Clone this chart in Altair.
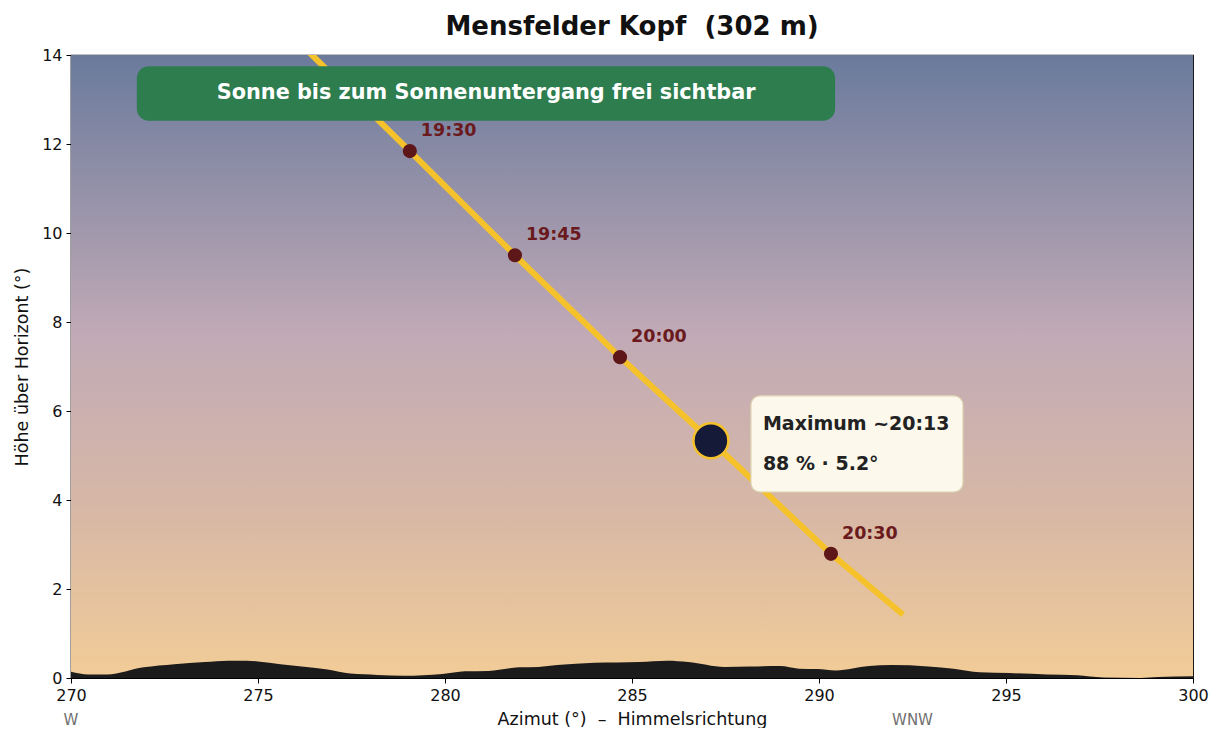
import altair as alt
import pandas as pd

# --- data ---
horizon_az = [270.0, 270.46, 270.97, 271.94, 272.76, 273.58, 274.2, 274.7, 275.0, 275.6,
              276.86, 277.47, 278.19, 278.9, 279.93, 280.54, 281.16, 281.98, 282.5, 283.0,
              284.0, 285.2, 285.94, 286.5, 287.48, 288.17, 288.96, 289.46, 289.95, 290.45,
              291.34, 291.93, 292.92, 293.6, 294.3, 295.1, 296.1, 296.9, 297.6, 298.6,
              299.06, 300.0]
horizon_alt = [0.14, 0.08, 0.08, 0.24, 0.31, 0.36, 0.39, 0.39, 0.37, 0.31,
               0.19, 0.10, 0.07, 0.05, 0.09, 0.15, 0.16, 0.24, 0.25, 0.29,
               0.34, 0.36, 0.39, 0.36, 0.25, 0.26, 0.27, 0.21, 0.20, 0.17,
               0.27, 0.29, 0.26, 0.21, 0.13, 0.11, 0.08, 0.06, 0.01, 0.0,
               0.02, 0.04]

path_az = [276.2, 279.06, 281.87, 284.68, 287.11, 290.32, 292.25]
path_alt = [14.2, 11.84, 9.5, 7.21, 5.33, 2.79, 1.42]

mark_times = ["19:30", "19:45", "20:00", "20:30"]
mark_az = [279.06, 281.87, 284.68, 290.32]
mark_alt = [11.84, 9.5, 7.21, 2.79]

max_az = [287.11]
max_alt = [5.33]
max_line1 = "Maximum ~20:13"
max_line2 = "88 % · 5.2°"

banner_text = "Sonne bis zum Sonnenuntergang frei sichtbar"
title_text = "Mensfelder Kopf \u00a0(302 m)"
x_title = "Azimut (°) \u00a0–\u00a0 Himmelsrichtung"
y_title = "Höhe über Horizont (°)"
compass_labels = ["W", "WNW"]
compass_az = [270.0, 292.5]
x_ticks = [270, 275, 280, 285, 290, 295, 300]
y_ticks = [0, 2, 4, 6, 8, 10, 12, 14]

FONT = "DejaVu Sans"

xs = alt.Scale(domain=[270, 300], nice=False)
ys = alt.Scale(domain=[0, 14], nice=False)

X = lambda f: alt.X(f, type="quantitative", scale=xs,
                    axis=alt.Axis(title=x_title, values=x_ticks, labelFlush=False))
Y = lambda f: alt.Y(f, type="quantitative", scale=ys,
                    axis=alt.Axis(title=y_title, values=y_ticks, labelFlush=False))

sky_df = pd.DataFrame({"x0": [270], "x1": [300], "y0": [0], "y1": [14]})
sky = alt.Chart(sky_df).mark_rect(
    color=alt.Gradient(
        gradient="linear", x1=0, x2=0, y1=0, y2=1,
        stops=[alt.GradientStop(offset=0, color="#6a7a9c"),
               alt.GradientStop(offset=0.45, color="#c1aab6"),
               alt.GradientStop(offset=0.75, color="#d9b9a5"),
               alt.GradientStop(offset=1, color="#f2cc97")]
    )
).encode(x=X("x0"), x2="x1", y=Y("y0"), y2="y1")

hz_df = pd.DataFrame({"az": horizon_az, "alt": horizon_alt})
horizon = alt.Chart(hz_df).mark_area(color="#1b1b1b", interpolate="monotone", opacity=1).encode(
    x=X("az"), y=Y("alt"), y2=alt.datum(0))

path_df = pd.DataFrame({"az": path_az, "alt": path_alt})
path = alt.Chart(path_df).mark_line(color="#f5c22c", strokeWidth=6, clip=True).encode(
    x=X("az"), y=Y("alt"))

mk_df = pd.DataFrame({"t": mark_times, "az": mark_az, "alt": mark_alt})
markers = alt.Chart(mk_df).mark_circle(color="#5e1719", size=200, opacity=1).encode(
    x=X("az"), y=Y("alt"))
mk_labels = alt.Chart(mk_df).mark_text(color="#6a1a1c", font=FONT, fontSize=17.5, fontWeight="bold",
                                       align="left", baseline="middle", dx=11, dy=-20).encode(
    x=X("az"), y=Y("alt"), text="t")

mx_df = pd.DataFrame({"az": max_az, "alt": max_alt})
maxpt = alt.Chart(mx_df).mark_point(filled=True, fill="#141a38", stroke="#f5c22c", strokeWidth=2.5,
                                    size=1225, opacity=1, shape="circle").encode(x=X("az"), y=Y("alt"))

banner_df = pd.DataFrame({"x0": [271.76], "x1": [290.43], "y0": [12.52], "y1": [13.75]})
banner = alt.Chart(banner_df).mark_rect(color="#2e7d4f", cornerRadius=12).encode(
    x=X("x0"), x2="x1", y=Y("y0"), y2="y1")
banner_txt = alt.Chart(pd.DataFrame({"x": [281.1], "y": [13.14], "t": [banner_text]})).mark_text(
    color="white", font=FONT, fontSize=20.8, fontWeight="bold", align="center", baseline="middle").encode(
    x=X("x"), y=Y("y"), text="t")

info_df = pd.DataFrame({"x0": [288.18], "x1": [293.85], "y0": [4.18], "y1": [6.34]})
info = alt.Chart(info_df).mark_rect(color="#fcf8ec", stroke="#dcd3b0", strokeWidth=1.2, cornerRadius=9).encode(
    x=X("x0"), x2="x1", y=Y("y0"), y2="y1")
info_txt = alt.Chart(pd.DataFrame({"x": [288.5, 288.5], "y": [5.7, 4.8], "t": [max_line1, max_line2]})).mark_text(
    color="#222222", font=FONT, fontSize=19, fontWeight="bold", align="left", baseline="middle").encode(
    x=X("x"), y=Y("y"), text="t")

cmp_df = pd.DataFrame({"az": compass_az, "t": compass_labels})
compass = alt.Chart(cmp_df).mark_text(color="#707070", font=FONT, fontSize=15, align="center",
                                      baseline="middle").encode(
    x=X("az"), y=alt.value(665), text="t")

chart = alt.layer(sky, horizon, path, markers, mk_labels, maxpt, banner, banner_txt, info, info_txt, compass).properties(
    width=1122, height=623,
    title=alt.TitleParams(title_text, font=FONT, fontSize=26, fontWeight="bold", color="#111111",
                          anchor="middle", offset=7),
    padding={"left": 63, "top": 47, "right": 20, "bottom": 50},
    autosize=alt.AutoSizeParams(type="none"),
).configure_view(stroke="black", strokeWidth=1.2).configure_axis(
    grid=False, domainColor="black", tickColor="black", labelColor="#111111", titleColor="#111111",
    labelFont=FONT, titleFont=FONT, labelFontSize=16, titleFontSize=17.5, titleFontWeight="normal",
    tickSize=5, labelPadding=4, domainWidth=1.2
).configure_axisY(titlePadding=10).configure_axisX(titlePadding=7)

chart.save("out.html", embed_options={"renderer": "svg", "actions": False})
